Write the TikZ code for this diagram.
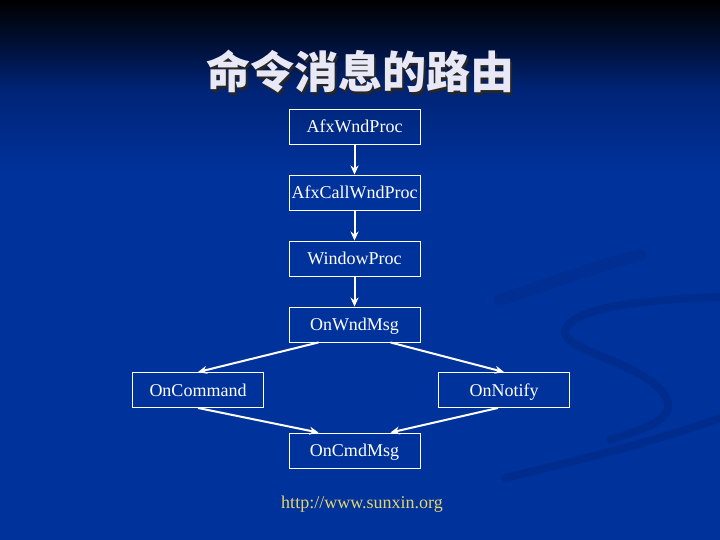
\documentclass[tikz,border=0pt]{standalone}
\usepackage{fontspec}
\setmainfont{Liberation Serif}
\newfontfamily\cjk{Noto Sans CJK SC}
\usetikzlibrary{arrows.meta}
\definecolor{bgblue}{RGB}{0,50,155}
\definecolor{bgmid}{RGB}{0,36,118}
\definecolor{bgdark}{RGB}{0,14,48}
\definecolor{swoosh}{RGB}{0,36,122}
\definecolor{titlecol}{RGB}{232,232,246}
\definecolor{urlcol}{RGB}{228,212,110}
\pgfdeclareverticalshading{bgshade}{100bp}{color(0bp)=(bgblue); color(25bp)=(bgblue); color(59bp)=(bgblue); color(66.7bp)=(bgmid); color(71.3bp)=(bgdark); color(75bp)=(black); color(100bp)=(black)}
\tikzset{
  box/.style={draw=white, line width=0.9pt, text=white, minimum width=131pt, minimum height=35pt, inner sep=0pt, text height=12pt, text depth=0pt, font=\fontsize{18}{20}\selectfont},
  arr/.style={draw=white, line width=2pt, -{Stealth[length=9pt,width=8pt]}},
  sw/.style={draw=swoosh, line cap=round, opacity=0.4}
}
\begin{document}
\begin{tikzpicture}[x=1pt,y=-1pt]
\useasboundingbox (0,0) rectangle (720,540);
\shade[shading=bgshade] (0,0) rectangle (720,540);
% decorative swooshes
\draw[sw, line width=12pt, opacity=0.22] (500,300) .. controls (560,280) and (600,265) .. (640,255);
\draw[sw, line width=8pt] (720,297) .. controls (650,300) and (580,305) .. (566,328) .. controls (555,350) and (640,360) .. (665,395) .. controls (680,420) and (640,430) .. (610,440);
\draw[sw, line width=8pt] (505,478) .. controls (580,460) and (660,440) .. (720,418);
% title
\node[text=black!85, font=\cjk\bfseries\fontsize{44}{48}\selectfont] (tshadow) at (362.5,74.5) {命令消息的路由};
\node[text=titlecol, font=\cjk\bfseries\fontsize{44}{48}\selectfont] (title) at (360,72) {命令消息的路由};
% boxes
\node[box] (a) at (354.5,126.5) {AfxWndProc};
\node[box] (b) at (354.5,192.5) {AfxCallWndProc};
\node[box] (c) at (354.5,258.5) {WindowProc};
\node[box] (d) at (354.5,324.5) {OnWndMsg};
\node[box] (e) at (198,390) {OnCommand};
\node[box] (f) at (504,390) {OnNotify};
\node[box] (g) at (354.5,450.5) {OnCmdMsg};
% arrows
\draw[arr] (a) -- (b);
\draw[arr] (b) -- (c);
\draw[arr] (c) -- (d);
\draw[arr] ([xshift=-36pt]d.south) -- (e.north);
\draw[arr] ([xshift=36pt]d.south) -- (f.north);
\draw[arr] (e.south) -- ([xshift=-36pt]g.north);
\draw[arr] ([xshift=-6pt]f.south) -- ([xshift=36pt]g.north);
% url
\node[text=urlcol, font=\fontsize{18}{20}\selectfont] (url) at (362,504) {http://www.sunxin.org};
\end{tikzpicture}
\end{document}
